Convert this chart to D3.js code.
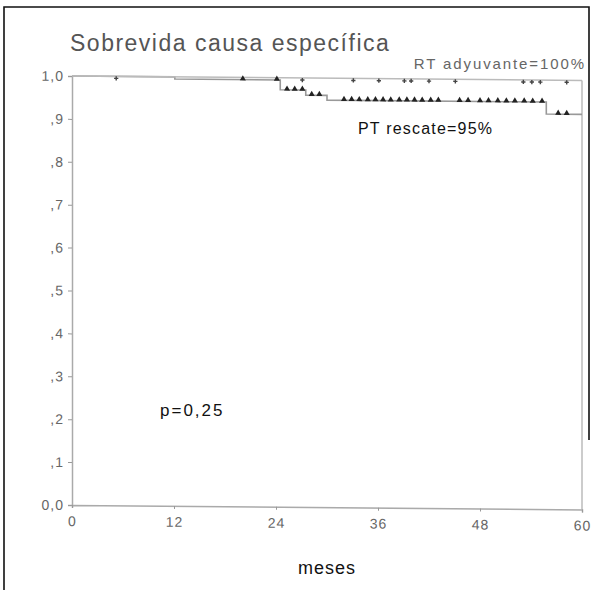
<!DOCTYPE html>
<html>
<head>
<meta charset="utf-8">
<script src="https://cdn.jsdelivr.net/npm/d3@7/dist/d3.min.js"></script>
<style>
  html, body { margin: 0; padding: 0; background: #fff; }
  svg { display: block; font-family: "Liberation Sans", Arial, sans-serif; }
</style>
</head>
<body>
<svg id="chart" width="599" height="590"></svg>
<script>
// ---- data ----
const title = "Sobrevida causa específica";
const xTicks = [0, 12, 24, 36, 48, 60];
const yTicks = [0, 0.1, 0.2, 0.3, 0.4, 0.5, 0.6, 0.7, 0.8, 0.9, 1.0];
const yTickLabels = ["0,0", ",1", ",2", ",3", ",4", ",5", ",6", ",7", ",8", ",9", "1,0"];

// PT rescate (Kaplan-Meier steps)
const ptTimes = [0, 12.1, 24.5, 27.5, 30.0, 55.8, 60];
const ptSurv  = [1.0, 0.995, 0.972, 0.960, 0.949, 0.921, 0.921];
const ptCensor = [20.1, 24.1, 25.3, 26.2, 27.1, 28.2, 29.1,
  32.0, 32.9, 33.8, 34.8, 35.7, 36.6, 37.5, 38.5, 39.4, 40.3, 41.2, 42.2, 43.1,
  45.6, 46.6, 48.0, 49.0, 50.1, 51.1, 52.1, 53.2, 54.2, 55.3, 57.2, 58.2];

// RT adyuvante
const rtTimes = [0, 60];
const rtSurv  = [1.0, 1.0];
const rtCensor = [5.2, 27.1, 33.1, 36.1, 39.1, 39.9, 42.0, 45.1, 53.1, 54.1, 55.1, 58.2];

// ---- drawing ----
const svg = d3.select("#chart");
const x = d3.scaleLinear().domain([0, 60]).range([72, 582]);
const y = d3.scaleLinear().domain([0, 1]).range([505, 76]);

// outer frame
svg.append("path")
  .attr("d", "M4,590 V7 H589 V440")
  .attr("fill", "none").attr("stroke", "#111").attr("stroke-width", 1.6);

// title and annotations
svg.append("text").attr("x", 70).attr("y", 51)
  .attr("font-size", 23).attr("letter-spacing", 1.5).attr("fill", "#555").text(title);
svg.append("text").attr("x", 586).attr("y", 69).attr("text-anchor", "end")
  .attr("font-size", 15).attr("letter-spacing", 1.9).attr("fill", "#666").text("RT adyuvante=100%");
svg.append("text").attr("x", 358).attr("y", 134)
  .attr("font-size", 16).attr("letter-spacing", 1.2).attr("fill", "#111").text("PT rescate=95%");
svg.append("text").attr("x", 160).attr("y", 416)
  .attr("font-size", 17).attr("letter-spacing", 2).attr("fill", "#111").text("p=0,25");
svg.append("text").attr("x", 327).attr("y", 574).attr("text-anchor", "middle")
  .attr("font-size", 18).attr("letter-spacing", 1).attr("fill", "#111").text("meses");

// plot group (slight scan skew)
const g = svg.append("g").attr("transform", "translate(72,0) skewY(0.5) translate(-72,0)");

// frame right side
g.append("line").attr("x1", x(60)).attr("x2", x(60)).attr("y1", y(1)).attr("y2", y(0))
  .attr("stroke", "#bbb").attr("stroke-width", 1.5);

// axes
const yAxis = d3.axisLeft(y).tickValues(yTicks)
  .tickFormat((d, i) => yTickLabels[i]).tickSize(4).tickPadding(4);
const gy = g.append("g").attr("transform", `translate(${x(0)},0)`).call(yAxis);
const xAxis = d3.axisBottom(x).tickValues(xTicks).tickSize(3).tickPadding(8);
const gx = g.append("g").attr("transform", `translate(0,${y(0)})`).call(xAxis);
[gx, gy].forEach(a => {
  a.select(".domain").attr("stroke", "#aaa").attr("stroke-width", 1.5);
  a.selectAll(".tick line").attr("stroke", "#999");
  a.selectAll(".tick text").attr("fill", "#666").attr("font-size", 14)
    .attr("letter-spacing", 1)
    .attr("font-family", "'Liberation Sans', Arial, sans-serif");
});

// step curves
const stepLine = d3.line().x(d => x(d[0])).y(d => y(d[1])).curve(d3.curveStepAfter);
const rtPts = rtTimes.map((t, i) => [t, rtSurv[i]]);
const ptPts = ptTimes.map((t, i) => [t, ptSurv[i]]);
g.append("path").attr("d", stepLine(ptPts)).attr("fill", "none")
  .attr("stroke", "#999").attr("stroke-width", 1.6);
g.append("path").attr("d", stepLine(rtPts)).attr("fill", "none")
  .attr("stroke", "#bbb").attr("stroke-width", 1.5);

function survAt(times, surv, t) {
  let v = surv[0];
  for (let i = 0; i < times.length; i++) if (times[i] <= t) v = surv[i];
  return v;
}

// censor marks: PT triangles
const tri = d3.symbol().type(d3.symbolTriangle).size(16);
g.selectAll(".ptc").data(ptCensor).join("path")
  .attr("class", "ptc")
  .attr("d", tri)
  .attr("transform", d => `translate(${x(d)},${y(survAt(ptTimes, ptSurv, d)) - 1})`)
  .attr("fill", "#222");

// censor marks: RT small crosses
g.selectAll(".rtc").data(rtCensor).join("path")
  .attr("class", "rtc")
  .attr("d", d3.symbol().type(d3.symbolCross).size(10))
  .attr("transform", d => `translate(${x(d)},${y(survAt(rtTimes, rtSurv, d)) + 2})`)
  .attr("fill", "#444");
</script>
</body>
</html>
